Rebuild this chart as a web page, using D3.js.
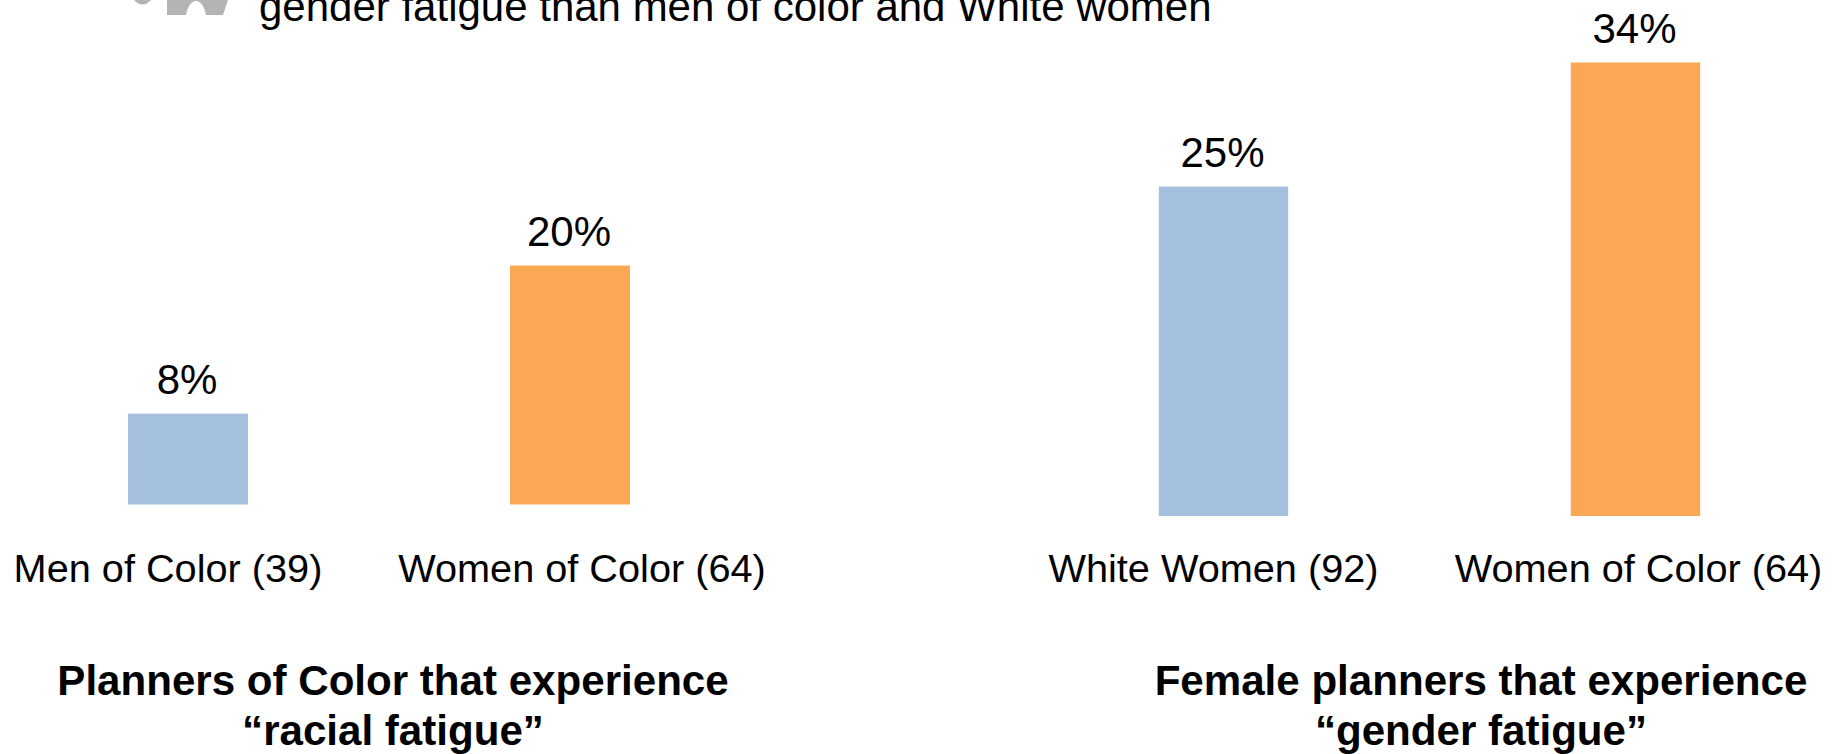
<!DOCTYPE html>
<html>
<head>
<meta charset="utf-8">
<script src="https://cdnjs.cloudflare.com/ajax/libs/d3/7.8.5/d3.min.js"></script>
<style>
  html, body { margin: 0; background: #fff; }
  svg { display: block; }
  text { font-family: "Liberation Sans", Arial, sans-serif; fill: #000; }
</style>
</head>
<body>
<div id="chart"></div>
<script>
// Left panel
const racialCategories = ["Men of Color (39)", "Women of Color (64)"];
const racialValues = [7.6, 20];
const racialTitle = ["Planners of Color that experience", "“racial fatigue”"];

// Right panel
const genderCategories = ["White Women (92)", "Women of Color (64)"];
const genderValues = [24.7, 34];
const genderTitle = ["Female planners that experience", "“gender fatigue”"];

const headerText = "gender fatigue than men of color and White women";
const barColors = ["#a5c0df", "#fba855"];

const width = 1843;
const height = 754;

const svg = d3
  .select("#chart")
  .append("svg")
  .attr("width", width)
  .attr("height", height)
  .attr("viewBox", [0, 0, width, height]);

// Header line, cut off by the top of the picture in the original
svg
  .append("text")
  .attr("x", 259)
  .attr("y", 21)
  .style("font-size", "42px")
  .text(headerText);

// Bottom of the grey people icon
const icon = svg.append("g").attr("fill", "#b4b4b4");
icon.append("path").attr("d", "M167 0H228L223 15H206Q203 1 196 1Q189 1 186 15H167Z");
icon.append("circle").attr("cx", 142.5).attr("cy", -5.5).attr("r", 10);

function drawPanel(opts) {
  const x = d3
    .scaleBand()
    .domain(opts.categories)
    .range(opts.xRange)
    .paddingInner(0.686)
    .paddingOuter(0.343);

  const y = d3
    .scaleLinear()
    .domain([0, opts.yMax])
    .range([opts.baseline, opts.top]);

  svg
    .append("g")
    .selectAll("rect")
    .data(opts.values)
    .join("rect")
    .attr("x", (d, i) => x(opts.categories[i]))
    .attr("y", (d) => y(d))
    .attr("width", x.bandwidth())
    .attr("height", (d) => y(0) - y(d))
    .attr("fill", (d, i) => barColors[i]);

  // Value labels
  svg
    .append("g")
    .selectAll("text")
    .data(opts.values)
    .join("text")
    .attr("x", (d, i) => x(opts.categories[i]) + x.bandwidth() / 2 - 1)
    .attr("y", (d) => y(d) - 20)
    .attr("text-anchor", "middle")
    .style("font-size", "42px")
    .text((d) => `${Math.round(d)}%`);

  // Category axis, labels sit a little off the bar centres
  svg
    .append("g")
    .attr("transform", "translate(0,554)")
    .call(d3.axisBottom(x).tickSize(0).tickPadding(0))
    .call((g) => g.select(".domain").remove())
    .selectAll("text")
    .attr("dx", (d, i) => opts.labelShift[i])
    .attr("dy", "0.71em")
    .attr("fill", "#000")
    .style("font-size", "39.7px");

  // Panel title
  svg
    .append("g")
    .selectAll("text")
    .data(opts.title)
    .join("text")
    .attr("x", opts.titleX)
    .attr("y", (d, i) => 695 + i * 50)
    .attr("text-anchor", "middle")
    .style("font-size", "42.1px")
    .style("font-weight", "bold")
    .text((d) => d);
}

drawPanel({
  categories: racialCategories,
  values: racialValues,
  title: racialTitle,
  xRange: [-3, 761],
  yMax: 20,
  baseline: 504.5,
  top: 265.5,
  labelShift: [-20, 12],
  titleX: 393,
});

drawPanel({
  categories: genderCategories,
  values: genderValues,
  title: genderTitle,
  xRange: [1017.5, 1841.5],
  yMax: 34,
  baseline: 516,
  top: 62.5,
  labelShift: [-10, 3],
  titleX: 1481,
});
</script>
</body>
</html>
